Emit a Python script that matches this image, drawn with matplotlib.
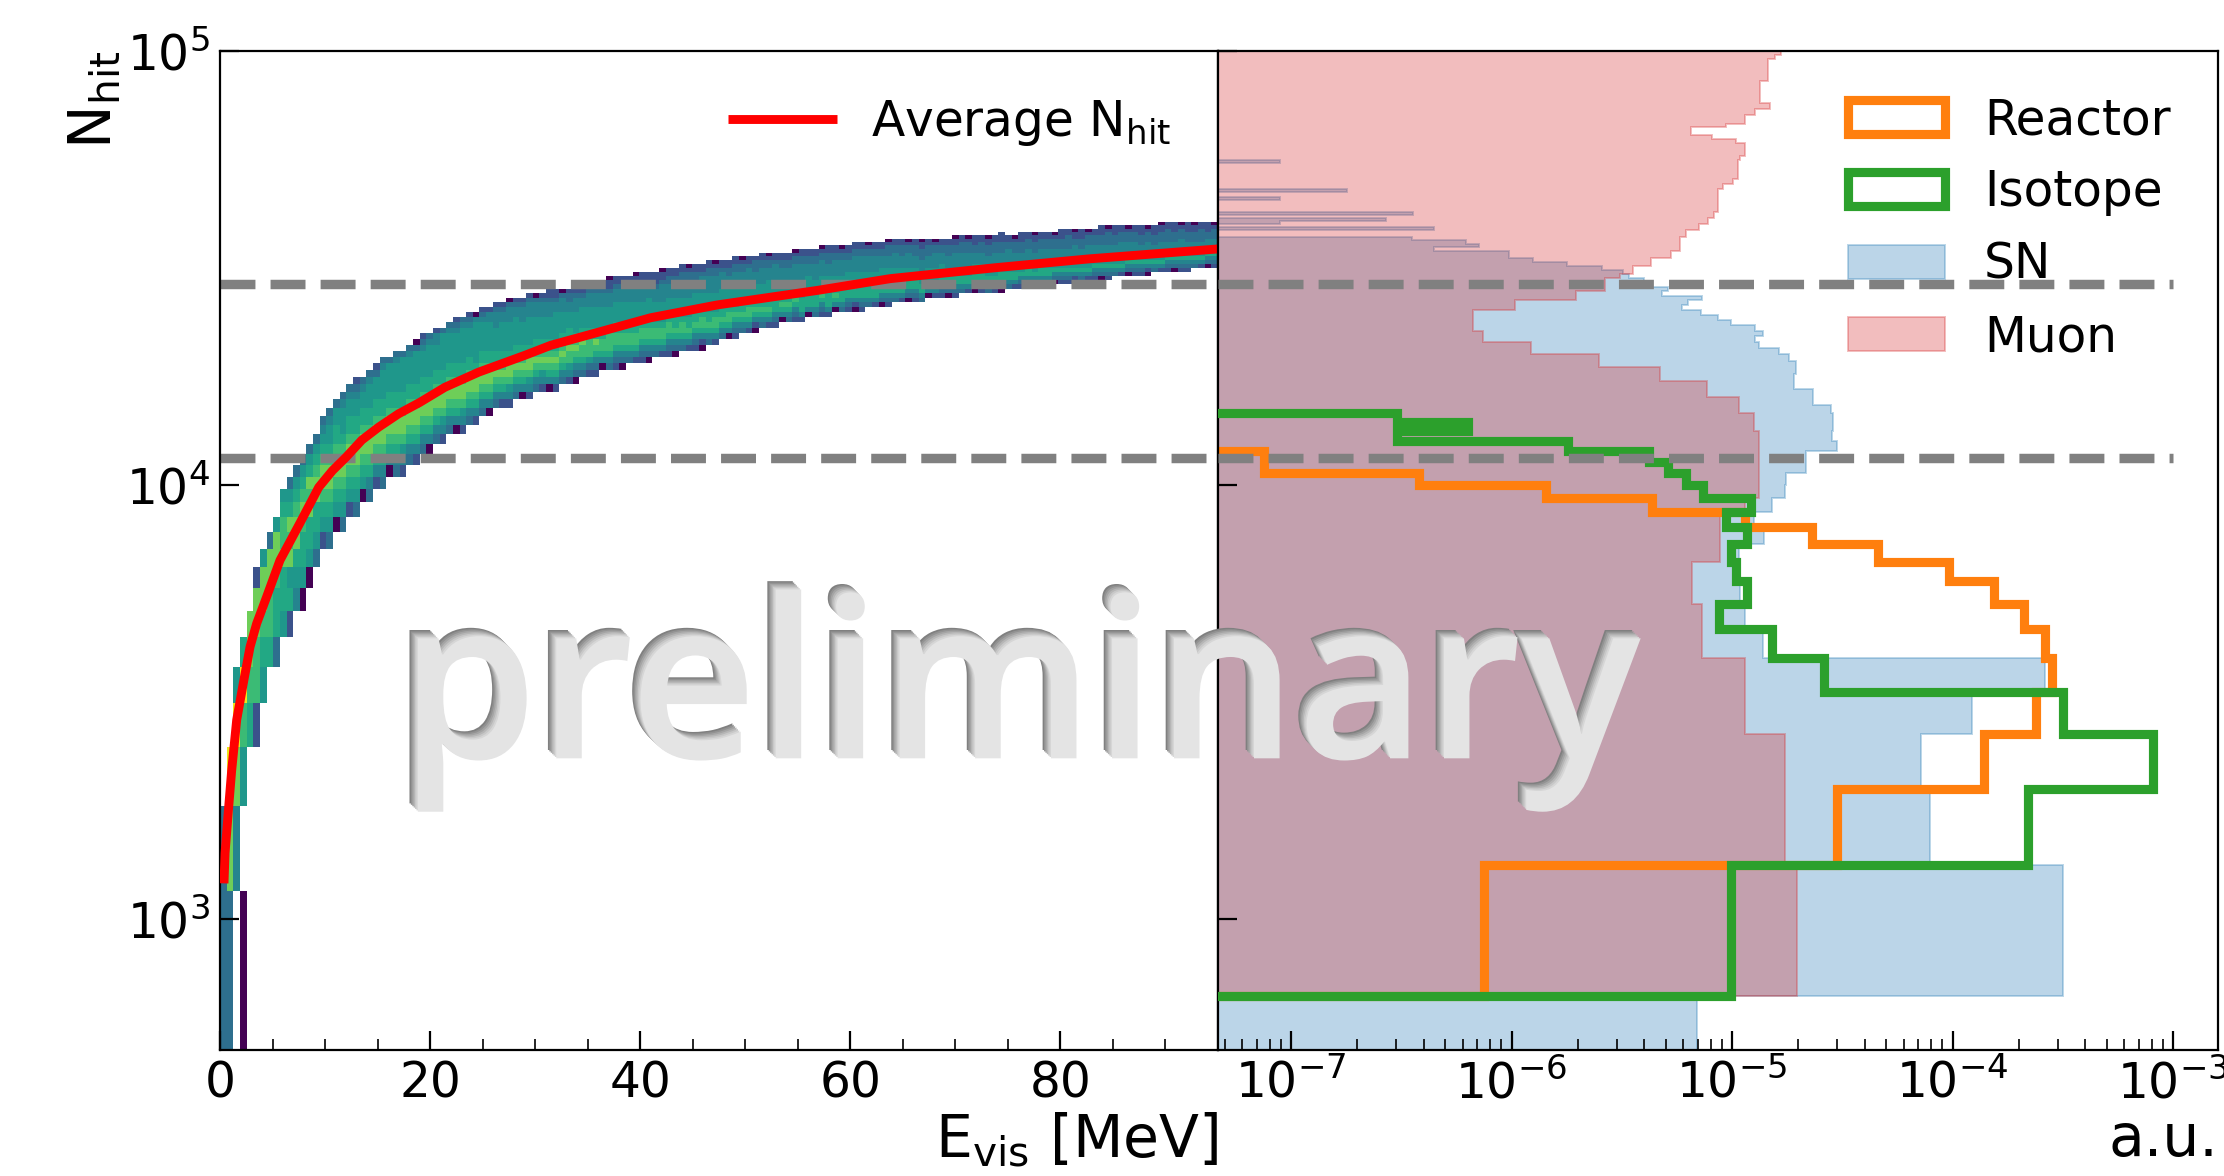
import numpy as np
import matplotlib
matplotlib.use("Agg")
import matplotlib.pyplot as plt
import matplotlib.patheffects as pe
from matplotlib.patches import Patch
from matplotlib.ticker import MultipleLocator, NullLocator

# heatmap: one entry per E_vis column, first row index and a level digit (0-9) per row, '.' = empty
col_start = [
    0, 0, 1, 0, 3, 3, 4, 5, 5, 6,
    6, 7, 7, 8, 9, 10, 10, 11, 11, 12,
    12, 13, 13, 14, 14, 15, 15, 15, 16, 16,
    17, 17, 18, 18, 19, 19, 19, 20, 20, 21,
    21, 22, 22, 22, 23, 23, 23, 24, 24, 24,
    24, 25, 25, 25, 26, 26, 26, 27, 27, 27,
    27, 28, 28, 28, 28, 29, 29, 29, 29, 30,
    30, 30, 30, 31, 31, 32, 32, 32, 33, 33,
    33, 34, 34, 34, 35, 35, 35, 35, 36, 36,
    36, 36, 37, 37, 37, 37, 37, 38, 38, 38,
    38, 39, 39, 39, 39, 39, 40, 40, 40, 40,
    40, 41, 41, 41, 41, 41, 41, 41, 42, 42,
    42, 42, 42, 43, 43, 43, 43, 43, 43, 44,
    44, 44, 44, 44, 45, 45, 45, 45, 45, 45,
    46, 46, 46, 46, 46, 46, 47, 47, 47, 47,
]
col_cells = [
    "33", "389", "4895", "0.5796", "6788", "277882", "567885", "677883", "3667885", "56687765",
    "265878653", "456887653", "0566787653", "0566878653", "3566887653", "25678876543", "356788765543", "056788766553", "3567887655543", "2567887665543",
    "35678876655432", "0567887665543", "34678876655543", "24678876655532", "346788766555543", "04678876655553", "346788766555543", "245788766555553", "346788766555543", "2467887665555530",
    "3467887665555432", "0467887665555543", "3467887665555442", "2457887665555553", "3467887665555543", "04678876655555432", "24578876655555543", "34678876655555432", "24678866555555540", "34678876655555432",
    "04678876655555442", "34678766555544432", "24678766555554432", "245788665555544430", "34678766555554432", "04678766555544432", "245788665555544432", "34678766555544430", "24578766555544432", "046787665555444322",
    "246787655555544322", "34678766555544430", "24577876655544332", "034678765555444322", "34677866555544322", "235777665555444320", "234678665555444322", "04677665555444322", "346777655554443220", "234677665555444322",
    "034677665555444322", "34677665555444322", "246776655554443220", "234677655554444322", "034677655555444322", "34677655554443222", "246776555544443220", "234677655554443322", "034676655554444322", "346776555544443322",
    "246766555544443320", "234676655554443322", "024677655554444322", "346766555544443322", "246776555544443320", "34676655554444322", "04677655554443322", "234676555544443322", "34676655544443320", "24677655554444322",
    "02467655554443332", "34676555544443322", "24676655554443320", "23466655554444322", "0467655544443322", "3467655554443322", "23467655544443320", "24666555544443322", "0466655554443322", "3466655544443322",
    "23467655544443320", "24666555544433322", "0467655544443322", "3466655544443320", "2346655554443322", "02466655544443322", "23466655544443322", "3466655544443320", "2466655544443322", "0346655554443322",
    "23466655544433320", "3466655544443322", "2466555544433322", "0346655544443320", "2346655544433322", "3466555444333220", "046655544433322", "246655544443320", "234665554443322", "034665544433322",
    "2346655444433220", "346655444433322", "246655444433320", "034665544433222", "234665544433322", "346655444333220", "246655444433322", "0346655444333222", "34665544443322", "24665544433320",
    "234655444333222", "034665444433322", "234655444333220", "34665444433322", "24665544433322", "03465544433320", "234655444333222", "234655444333322", "024655444433220", "34655444333222",
    "24655444433320", "23465544433322", "034655444333222", "234655444333320", "34655444333222", "24655444433322", "03465544433320", "23465544433322", "23465444333222", "02465544433320",
    "3465444333222", "24655444333220", "23465444333322", "03465444333222", "23465544433320", "23465444333222", "3465444333220", "2465444333322", "0346544433222", "2346544433320",
]
level_colors = [0.0, 0.12, 0.25, 0.36, 0.45, 0.53, 0.60, 0.68, 0.78, 0.97]

# average Nhit curve
avg_evis = [0.38, 0.48, 0.8, 1.11, 1.59, 2.22, 2.86, 3.49, 4.44, 5.71, 7.6, 9.4, 10.7, 12.0, 13.5, 15.1, 17.0, 19.0, 21.4, 24.6, 29.0, 31.5, 36.0, 41.0, 47.3, 56.9, 63.8, 73.9, 82.7, 95.0]
avg_nhit = [1210, 1420, 1782, 2200, 2880, 3500, 4240, 4800, 5530, 6714, 8170, 9890, 10800, 11600, 12700, 13600, 14600, 15500, 16800, 18200, 19900, 21000, 22500, 24300, 26000, 28100, 29900, 31700, 33200, 35000]

# Nhit cuts
nhit_cuts = [29040, 11540]

# right panel histograms, 150 bins of Nhit from 0 to 1e5
reactor = [0, 7.5e-7, 3.0e-5, 1.39e-4, 2.39e-4, 2.82e-4, 2.64e-4, 2.12e-4, 1.54e-4, 9.6e-5,
           4.6e-5, 2.3e-5, 1.14e-5, 4.34e-6, 1.43e-6, 3.8e-7, 7.5e-8, 7.5e-8] + [0] * 132
isotope = [0, 9.9e-6, 2.2e-4, 8.15e-4, 3.17e-4, 2.62e-5, 1.51e-5, 8.7e-6, 1.17e-5, 1.04e-5,
           9.9e-6, 1.17e-5, 9.4e-6, 1.22e-5, 7.35e-6, 6.19e-6, 5.14e-6, 4.2e-6, 1.81e-6, 3.03e-7,
           6.35e-7, 3.03e-7] + [0] * 128
sn = [6.9e-6, 3.17e-4, 7.9e-5, 7.2e-5, 1.22e-4, 2.64e-4, 1.38e-5, 1.14e-5, 1.09e-5, 1.09e-5,
      1.08e-5, 1.39e-5, 1.26e-5, 1.51e-5, 1.73e-5, 1.76e-5, 2.16e-5, 2.16e-5, 3.0e-5, 2.83e-5,
      2.86e-5, 2.86e-5, 2.8e-5, 2.34e-5, 2.34e-5, 1.91e-5, 1.91e-5, 1.95e-5, 1.95e-5, 1.81e-5,
      1.64e-5, 1.32e-5, 1.27e-5, 1.38e-5, 1.27e-5, 9.9e-6, 8.6e-6, 7.2e-6, 5.9e-6, 6.3e-6,
      7.3e-6, 4.8e-6, 5.1e-6, 3.97e-6, 3.97e-6, 3.4e-6, 3.2e-6, 2.58e-6, 1.78e-6, 1.25e-6,
      9.7e-7, 9.7e-7, 4.45e-7, 7.1e-7, 6.2e-7, 3.54e-7, 0, 0, 4.45e-7, 0,
      8.9e-8, 2.7e-7, 0, 3.59e-7, 0, 0, 0, 0, 8.9e-8, 0,
      0, 1.79e-7, 0, 0, 0, 0, 0, 0, 0, 0,
      0, 0, 0, 8.9e-8] + [0] * 66
muon = [0, 1.98e-5, 1.73e-5, 1.73e-5, 1.15e-5, 1.15e-5, 7.3e-6, 7.3e-6, 6.6e-6, 6.6e-6,
        8.8e-6, 8.8e-6, 8.8e-6, 1.15e-5, 1.32e-5, 1.32e-5, 1.32e-5, 1.32e-5, 1.32e-5, 1.32e-5,
        1.26e-5, 1.26e-5, 1.08e-5, 1.08e-5, 7.7e-6, 7.7e-6, 4.7e-6, 4.7e-6, 2.49e-6, 2.49e-6,
        1.23e-6, 1.23e-6, 7.4e-7, 7.4e-7, 6.7e-7, 6.7e-7, 6.7e-7, 6.7e-7, 1.04e-6, 1.04e-6,
        1.96e-6, 1.96e-6, 2.65e-6, 2.65e-6, 2.65e-6, 3.1e-6, 3.55e-6, 3.55e-6, 4.3e-6, 4.3e-6,
        5.3e-6, 5.3e-6, 5.8e-6, 5.8e-6, 5.8e-6, 5.8e-6, 6.2e-6, 6.2e-6, 7.1e-6, 7.1e-6,
        7.8e-6, 7.8e-6, 8.3e-6, 8.3e-6, 8.6e-6, 8.6e-6, 8.6e-6, 8.6e-6, 8.6e-6, 8.6e-6,
        8.6e-6, 8.6e-6, 9.1e-6, 9.1e-6, 1.01e-5, 1.01e-5, 1.06e-5, 1.06e-5, 1.06e-5, 1.06e-5,
        1.06e-5, 1.06e-5, 1.06e-5, 1.06e-5, 1.09e-5, 1.09e-5, 1.14e-5, 1.14e-5, 1.14e-5, 1.14e-5,
        1.14e-5, 1.14e-5, 1.04e-5, 1.04e-5, 8.1e-6, 8.1e-6, 6.5e-6, 6.5e-6, 6.5e-6, 6.5e-6,
        9.4e-6, 9.4e-6, 1.15e-5, 1.15e-5, 1.15e-5, 1.15e-5, 1.15e-5, 1.27e-5, 1.27e-5, 1.27e-5,
        1.49e-5, 1.49e-5, 1.49e-5, 1.49e-5, 1.34e-5, 1.34e-5, 1.34e-5, 1.34e-5, 1.34e-5, 1.34e-5,
        1.34e-5, 1.34e-5, 1.34e-5, 1.34e-5, 1.34e-5, 1.34e-5, 1.34e-5, 1.34e-5, 1.46e-5, 1.46e-5,
        1.46e-5, 1.46e-5, 1.46e-5, 1.46e-5, 1.46e-5, 1.46e-5, 1.46e-5, 1.46e-5, 1.46e-5, 1.46e-5,
        1.46e-5, 1.46e-5, 1.46e-5, 1.46e-5, 1.56e-5, 1.56e-5, 1.56e-5, 1.67e-5, 1.67e-5, 1.67e-5]

W, H = 2224, 1176
LEFT, SPLIT, RIGHT, TOP, BOTTOM = 220, 1218, 2218, 51, 1050
FLOOR = 1e-12

fig = plt.figure(figsize=(W / 200, H / 200), dpi=200)
ax1 = fig.add_axes([LEFT / W, 1 - BOTTOM / H, (SPLIT - LEFT) / W, (BOTTOM - TOP) / H])
ax2 = fig.add_axes([SPLIT / W, 1 - BOTTOM / H, (RIGHT - SPLIT) / W, (BOTTOM - TOP) / H])

# left panel
x_edges = np.linspace(0, 95, 151)
y_edges = np.linspace(500, 1e5, 151)
levels = np.full((150, 150), np.nan)
for c, (start, cells) in enumerate(zip(col_start, col_cells)):
    for i, ch in enumerate(cells):
        if ch != ".":
            levels[start + i, c] = level_colors[int(ch)]
ax1.pcolormesh(x_edges, y_edges, np.ma.masked_invalid(levels), cmap="viridis", vmin=0, vmax=1, zorder=1)
for cut in nhit_cuts:
    ax1.axhline(cut, color="gray", ls="--", lw=3.4, zorder=2)
ax1.plot(avg_evis, avg_nhit, color="red", lw=3.2, solid_capstyle="butt", zorder=3, label=r"Average $\mathrm{N_{hit}}$")
ax1.set_yscale("log")
ax1.set_xlim(0, 95)
ax1.set_ylim(500, 1e5)
ax1.xaxis.set_major_locator(MultipleLocator(20))
ax1.xaxis.set_minor_locator(MultipleLocator(5))
ax1.yaxis.set_minor_locator(NullLocator())
ax1.set_xlabel(r"$\mathrm{E_{vis}}$ [MeV]", fontsize=21, loc="right", labelpad=1)
ax1.set_ylabel(r"$\mathrm{N_{hit}}$", fontsize=21, loc="top", labelpad=1)
ax1.legend(loc="upper right", frameon=False, fontsize=17.5, handlelength=2.25, handletextpad=0.68,
           bbox_to_anchor=(0.982, 0.982), borderaxespad=0.2)

# right panel
bins = np.linspace(0, 1e5, 151)
h_sn = ax2.stairs(np.clip(sn, FLOOR, None), bins, orientation="horizontal", baseline=FLOOR, fill=True,
                  color="tab:blue", edgecolor="tab:blue", linewidth=0.7, alpha=0.3, label="SN", zorder=1)
h_mu = ax2.stairs(np.clip(muon, FLOOR, None), bins, orientation="horizontal", baseline=FLOOR, fill=True,
                  color="tab:red", edgecolor="tab:red", linewidth=0.7, alpha=0.3, label="Muon", zorder=1)
ax2.stairs(np.clip(reactor, FLOOR, None), bins, orientation="horizontal", baseline=FLOOR,
           color="tab:orange", lw=3.3, zorder=2)
ax2.stairs(np.clip(isotope, FLOOR, None), bins, orientation="horizontal", baseline=FLOOR,
           color="tab:green", lw=3.3, zorder=3)
ax2.set_xscale("log")
ax2.set_yscale("log")
ax2.set_xlim(4.66e-8, 1.6e-3)
ax2.set_ylim(500, 1e5)
ax2.hlines(nhit_cuts, 4.66e-8, 1e-3, color="gray", ls="--", lw=3.4, zorder=4)
ax2.yaxis.set_minor_locator(NullLocator())
ax2.set_yticklabels([])
ax2.set_xlabel("a.u.", fontsize=21, loc="right", labelpad=1)
h_re = Patch(facecolor="none", edgecolor="tab:orange", lw=3.3, label="Reactor")
h_is = Patch(facecolor="none", edgecolor="tab:green", lw=3.3, label="Isotope")
ax2.legend(handles=[h_re, h_is, h_sn, h_mu], loc="upper right", frameon=False, fontsize=17.5,
           handlelength=2.0, labelspacing=0.5, bbox_to_anchor=(0.982, 0.984), borderaxespad=0.2)

for ax in (ax1, ax2):
    ax.tick_params(which="major", direction="in", length=7, labelsize=17.5)
    ax.tick_params(which="minor", direction="in", length=4)

# watermark with an inner shadow
shades = ["#808080", "#929292", "#a4a4a4", "#b6b6b6", "#c8c8c8", "#d6d6d6", "#e4e4e4"]
effects = [pe.SimplePatchShadow(offset=(0.5 * i, -0.5 * i), shadow_rgbFace=s, alpha=1) for i, s in enumerate(shades)]
fig.text(1012 / W, 1 - 750 / H, "preliminary", fontsize=80, family="Open Sans", weight="semibold", color="#e4e4e4",
         ha="center", va="baseline", path_effects=effects, zorder=10)

fig.savefig("out.png", dpi=200)
